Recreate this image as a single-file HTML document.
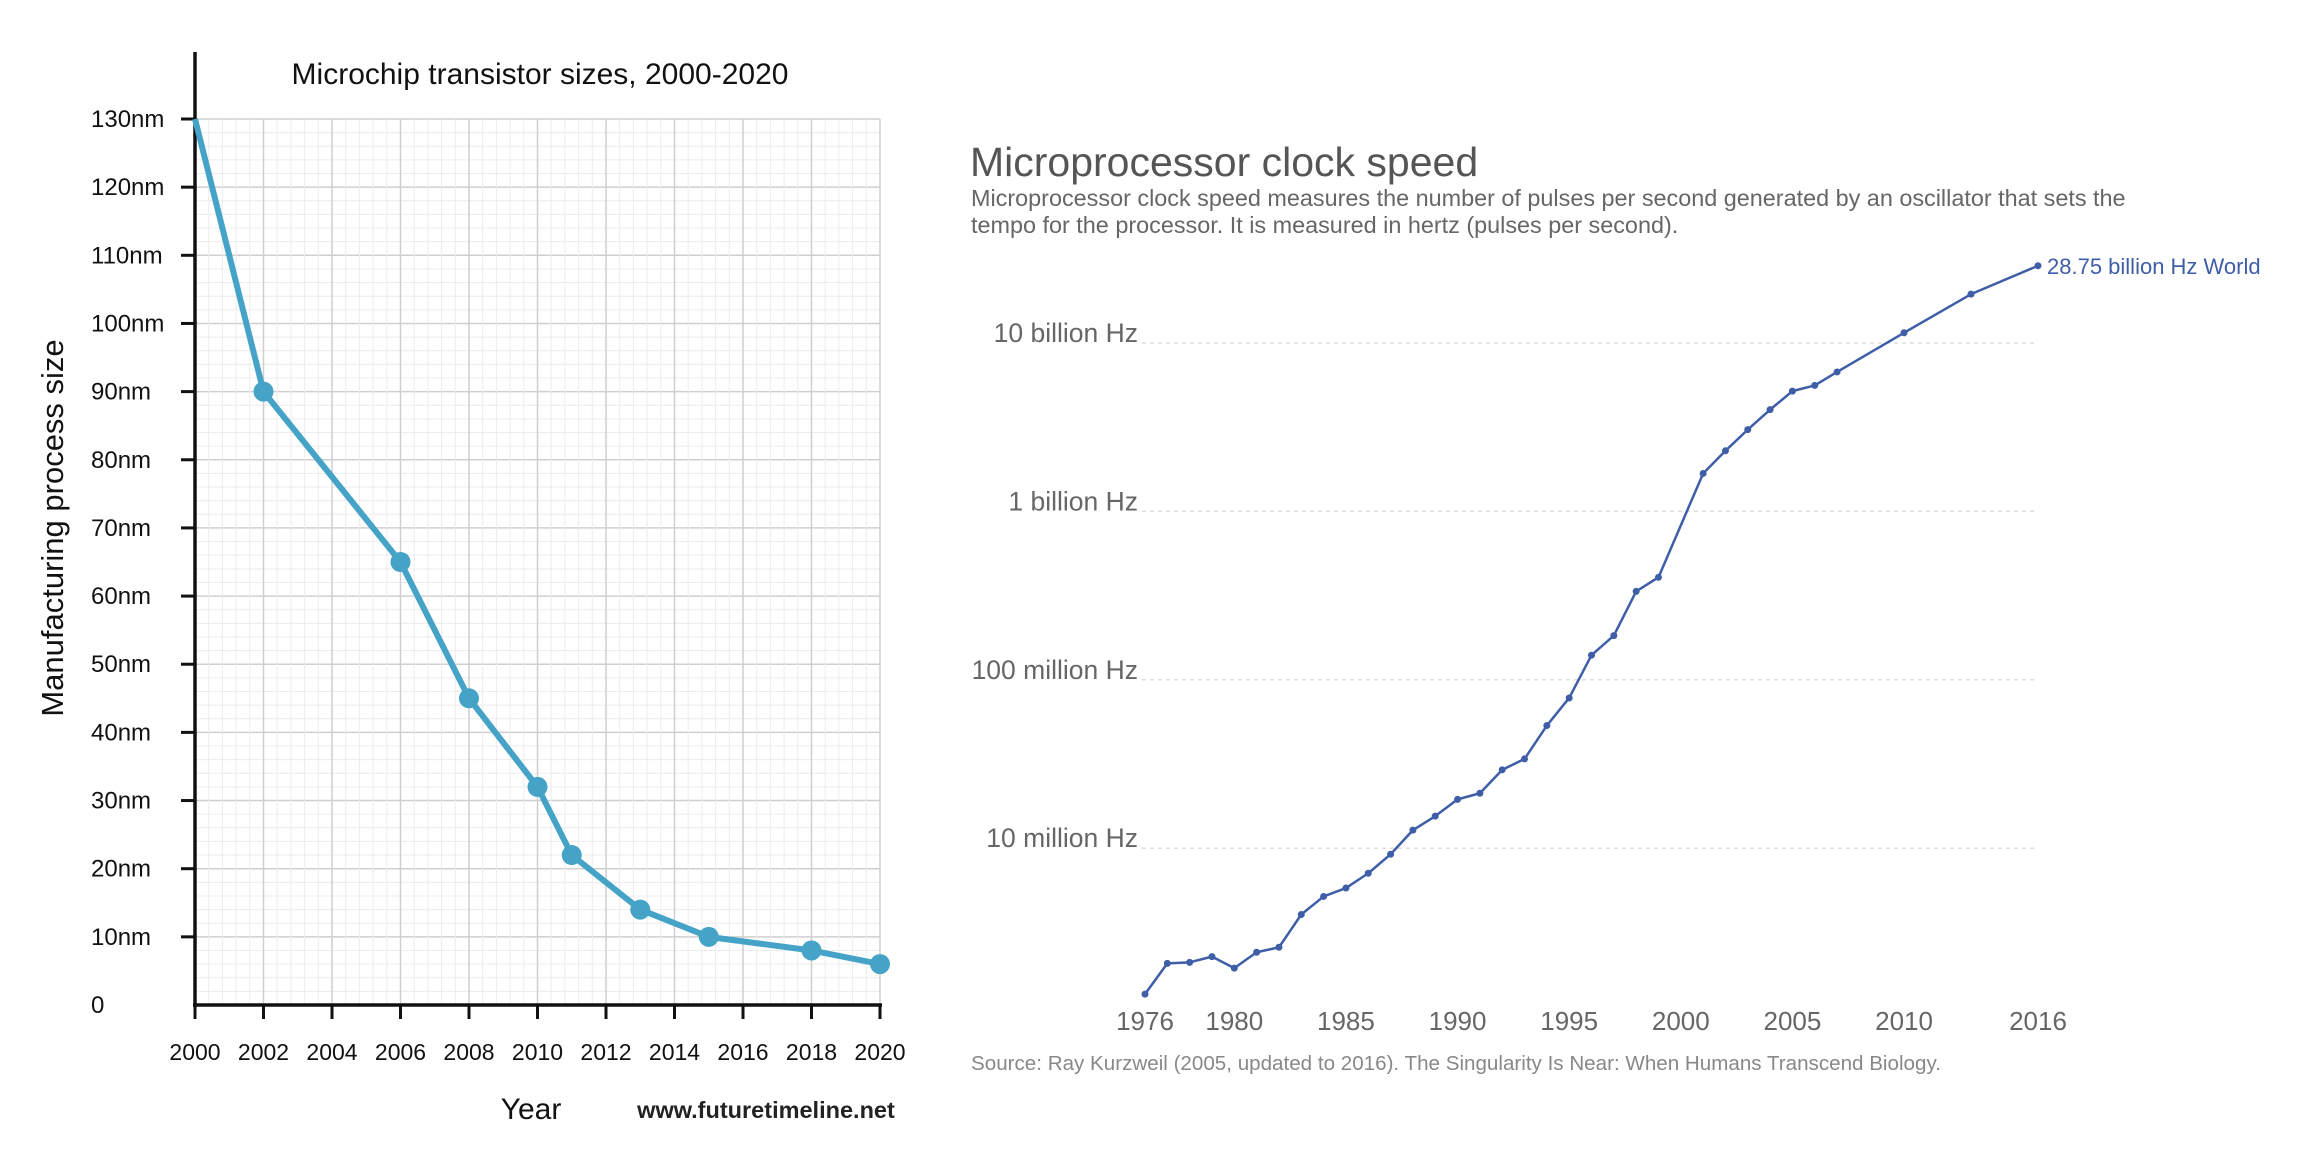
<!DOCTYPE html>
<html><head><meta charset="utf-8"><style>
html,body{margin:0;padding:0;background:#fff;}
svg{display:block;}
</style></head><body>
<svg id="root" width="2300" height="1166" viewBox="0 0 2300 1166" xmlns="http://www.w3.org/2000/svg">
<g id="left"></g>
<g id="right"></g>
</svg>
<script>
// ---- Left chart data ----
const tsYears = [2002, 2006, 2008, 2010, 2011, 2013, 2015, 2018, 2020];
const tsValues = [90, 65, 45, 32, 22, 14, 10, 8, 6];
const tsStartYear = [2000];
const tsStartValue = [130];
const tsYTicks = [0,10,20,30,40,50,60,70,80,90,100,110,120,130];
const tsXTicks = [2000,2002,2004,2006,2008,2010,2012,2014,2016,2018,2020];

// ---- Right chart data ----
const csYears = [1976,1977,1978,1979,1980,1981,1982,1983,1984,1985,1986,1987,1988,1989,1990,1991,1992,1993,1994,1995,1996,1997,1998,1999,2001,2002,2003,2004,2005,2006,2007,2010,2013,2016];
const csHz = [1.36e6,2.07e6,2.1e6,2.27e6,1.94e6,2.41e6,2.58e6,4.04e6,5.17e6,5.8e6,7.1e6,9.2e6,12.8e6,15.5e6,19.5e6,21.2e6,29.2e6,33.9e6,53.5e6,78e6,140e6,183e6,335e6,406e6,1.68e9,2.29e9,3.06e9,4.02e9,5.18e9,5.6e9,6.73e9,11.5e9,19.5e9,28.75e9];
const csYTickVals = [1e7,1e8,1e9,1e10];
const csYTickLabels = ["10 million Hz","100 million Hz","1 billion Hz","10 billion Hz"];
const csXTicks = [1976,1980,1985,1990,1995,2000,2005,2010,2016];

const NS = "http://www.w3.org/2000/svg";
function mk(parent, tag, attrs, text){
  const e = document.createElementNS(NS, tag);
  for (const k in attrs) e.setAttribute(k, attrs[k]);
  if (text !== undefined) e.textContent = text;
  parent.appendChild(e);
  return e;
}

// ===== Left =====
(function(){
  const g = document.getElementById('left');
  const x0=195, x1=880, y0=1005, y1=119;
  const X = y => x0 + (y-2000)/20*(x1-x0);
  const Y = v => y0 - v/130*(y0-y1);
  for (let v=0; v<=130; v+=2){
    const l = mk(g,'line',{x1:x0,x2:x1,y1:Y(v),y2:Y(v),stroke: v%10===0?'#cfcfcf':'#ececec','stroke-width':v%10===0?1.5:1});
    
    
  }
  for (let i=0;i<=50;i++){
    const yr = 2000+i*0.4;
    const maj = i%5===0;
    const l = mk(g,'line',{x1:X(yr),x2:X(yr),y1:y1,y2:y0,stroke: maj?'#cfcfcf':'#ececec','stroke-width':maj?1.5:1});
    
    
  }
  const ya = mk(g,'line',{x1:x0,x2:x0,y1:52,y2:y0+2,stroke:'#111','stroke-width':3.5});
  
  
  const xa = mk(g,'line',{x1:x0-2,x2:x1+2,y1:y0,y2:y0,stroke:'#111','stroke-width':3.5});
  
  
  tsYTicks.forEach(v=>{
    if (v>0){
      const t = mk(g,'line',{x1:x0-14,x2:x0,y1:Y(v),y2:Y(v),stroke:'#111','stroke-width':3});
      
      
    }
    const lb = mk(g,'text',{x:91,y:Y(v)+8,'font-family':'Liberation Sans, sans-serif','font-size':24,fill:'#111'}, v===0?'0':v+'nm');
    
    
  });
  tsXTicks.forEach(yr=>{
    const t = mk(g,'line',{x1:X(yr),x2:X(yr),y1:y0,y2:y0+14,stroke:'#111','stroke-width':3});
    
    
    const lb = mk(g,'text',{x:X(yr),y:1060,'text-anchor':'middle','font-family':'Liberation Sans, sans-serif','font-size':23,fill:'#111'}, String(yr));
    
    
  });
  const allX = tsStartYear.concat(tsYears), allV = tsStartValue.concat(tsValues);
  const pts = allX.map((yr,i)=>X(yr)+','+Y(allV[i])).join(' ');
  const pl = mk(g,'polyline',{points:pts,fill:'none',stroke:'#45a3c8','stroke-width':6,'stroke-linejoin':'round'});
  
  
  tsYears.forEach((yr,i)=>{
    const c = mk(g,'circle',{cx:X(yr),cy:Y(tsValues[i]),r:10,fill:'#45a3c8'});
    
    
  });
  const tt = mk(g,'text',{x:540,y:84,'text-anchor':'middle','font-family':'Liberation Sans, sans-serif','font-size':30,fill:'#111'},'Microchip transistor sizes, 2000-2020');
  
  
  const yt = mk(g,'text',{x:0,y:0,transform:'translate(63,528) rotate(-90)','text-anchor':'middle','font-family':'Liberation Sans, sans-serif','font-size':31,fill:'#111'},'Manufacturing process size');
  
  
  const xt = mk(g,'text',{x:531,y:1119,'text-anchor':'middle','font-family':'Liberation Sans, sans-serif','font-size':30,fill:'#111'},'Year');
  
  
  const ww = mk(g,'text',{x:766,y:1118,'text-anchor':'middle','font-family':'Liberation Sans, sans-serif','font-size':23.5,'font-weight':'bold',fill:'#222'},'www.futuretimeline.net');
  
  
})();

// ===== Right =====
(function(){
  const g = document.getElementById('right');
  const xa=1145, xb=2038;
  const X = yr => xa + (yr-1976)/40*(xb-xa);
  const Y = v => 343 + (10 - Math.log10(v))*168.4;
  const F = 'Liberation Sans, sans-serif';
  const t = mk(g,'text',{x:970,y:176,'font-family':F,'font-size':41,fill:'#555'},'Microprocessor clock speed');
  
  
  const s1 = mk(g,'text',{x:971,y:206,'font-family':F,'font-size':23.4,fill:'#666'},'Microprocessor clock speed measures the number of pulses per second generated by an oscillator that sets the');
  
  
  const s2 = mk(g,'text',{x:971,y:233,'font-family':F,'font-size':23.4,fill:'#666'},'tempo for the processor. It is measured in hertz (pulses per second).');
  
  
  csYTickVals.forEach((v,i)=>{
    const l = mk(g,'line',{x1:1142,x2:2038,y1:Y(v),y2:Y(v),stroke:'#ddd','stroke-width':1.5,'stroke-dasharray':'4,4'});
    
    
    const lb = mk(g,'text',{x:1138,y:Y(v)-1,'text-anchor':'end','font-family':F,'font-size':26.5,fill:'#666'},csYTickLabels[i]);
    
    
  });
  csXTicks.forEach(yr=>{
    const lb = mk(g,'text',{x:X(yr),y:1030,'text-anchor':'middle','font-family':F,'font-size':26,fill:'#666'},String(yr));
    
    
  });
  const pts = csYears.map((yr,i)=>X(yr)+','+Y(csHz[i])).join(' ');
  const pl = mk(g,'polyline',{points:pts,fill:'none',stroke:'#3f5ea8','stroke-width':2.5,'stroke-linejoin':'round'});
  
  
  csYears.forEach((yr,i)=>{
    const c = mk(g,'circle',{cx:X(yr),cy:Y(csHz[i]),r:3.5,fill:'#3f5ea8'});
    
    
  });
  const last = csYears.length-1;
  const el = mk(g,'text',{x:X(csYears[last])+9,y:Y(csHz[last])+8,'font-family':F,'font-size':22,fill:'#3f5ea8'},'28.75 billion Hz World');
  
  
  const src = mk(g,'text',{x:971,y:1070,'font-family':F,'font-size':20.6,fill:'#888'},'Source: Ray Kurzweil (2005, updated to 2016). The Singularity Is Near: When Humans Transcend Biology.');
  
  
})();
</script>
</body></html>
